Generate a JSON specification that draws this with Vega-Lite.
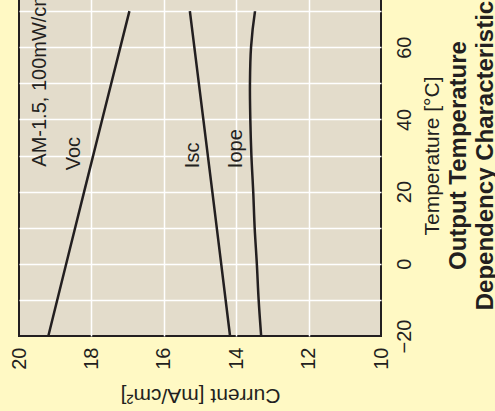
{
  "$schema": "https://vega.github.io/schema/vega-lite/v6.json",
  "width": 362,
  "height": 361,
  "autosize": {"type": "none"},
  "padding": {"left": 19, "top": -25, "right": 114, "bottom": 75},
  "background": "#FFF9C4",
  "title": {
    "text": ["Output Temperature", "Dependency Characteristic"],
    "orient": "right",
    "angle": 270,
    "baseline": "top",
    "anchor": "middle",
    "fontSize": 24,
    "fontWeight": "bold",
    "font": "Liberation Sans",
    "color": "#231F20",
    "offset": -46,
    "lineHeight": 27
  },
  "config": {
    "view": {"fill": "#E3DCCB", "stroke": "#231F20", "strokeWidth": 2},
    "font": "Liberation Sans"
  },
  "datasets": {
    "curves": [
      {"series": "Voc", "temp": -20, "current": 19.19},
      {"series": "Voc", "temp": 20, "current": 18.2},
      {"series": "Voc", "temp": 70, "current": 16.95},
      {"series": "Isc", "temp": -20, "current": 14.17},
      {"series": "Isc", "temp": 20, "current": 14.66},
      {"series": "Isc", "temp": 70, "current": 15.28},
      {"series": "Iope", "temp": -20, "current": 13.31},
      {"series": "Iope", "temp": -10, "current": 13.38},
      {"series": "Iope", "temp": 0, "current": 13.43},
      {"series": "Iope", "temp": 10, "current": 13.49},
      {"series": "Iope", "temp": 20, "current": 13.53},
      {"series": "Iope", "temp": 30, "current": 13.58},
      {"series": "Iope", "temp": 40, "current": 13.61},
      {"series": "Iope", "temp": 50, "current": 13.62},
      {"series": "Iope", "temp": 60, "current": 13.59},
      {"series": "Iope", "temp": 70, "current": 13.48}
    ],
    "labels": [
      {"label": "AM-1.5, 100mW/cm²", "temp": 26.9, "current": 19.26},
      {"label": "Voc", "temp": 25.9, "current": 18.31},
      {"label": "Isc", "temp": 26.5, "current": 15.03},
      {"label": "Iope", "temp": 26.5, "current": 13.84}
    ]
  },
  "layer": [
    {
      "data": {"name": "curves"},
      "mark": {"type": "line", "color": "#231F20", "strokeWidth": 2.5, "interpolate": "catmull-rom"},
      "encoding": {
        "x": {
          "field": "current",
          "type": "quantitative",
          "scale": {"domain": [10, 20], "reverse": true, "nice": false, "zero": false},
          "axis": {
            "values": [20, 18, 16, 14, 12, 10],
            "title": "Current [mA/cm²]",
            "labelAngle": -90,
            "labelAlign": "right",
            "labelBaseline": "middle",
            "labelPadding": 11,
            "labelFontSize": 20,
            "labelFlush": false,
            "labelOverlap": false,
            "labelColor": "#231F20",
            "ticks": false,
            "domain": false,
            "grid": true,
            "gridColor": "#FFFFFF",
            "gridWidth": 1.5,
            "gridOpacity": {"condition": {"test": "datum.value == 20 || datum.value == 10", "value": 0}, "value": 1},
            "titleAngle": 180,
            "titleAlign": "center",
            "titleBaseline": "alphabetic",
            "titleFontSize": 21,
            "titleFontWeight": "normal",
            "titleColor": "#231F20",
            "titlePadding": 19
          }
        },
        "y": {
          "field": "temp",
          "type": "quantitative",
          "scale": {"domain": [-20, 80], "nice": false, "zero": false},
          "axis": {
            "orient": "right",
            "values": [-20, -10, 0, 10, 20, 30, 40, 50, 60, 70],
            "labelExpr": "datum.value % 20 == 0 ? datum.label : ''",
            "labelAngle": -90,
            "labelAlign": "center",
            "labelBaseline": "top",
            "labelPadding": 13,
            "labelFontSize": 20,
            "labelFlush": false,
            "labelOverlap": false,
            "labelColor": "#231F20",
            "ticks": false,
            "domain": false,
            "grid": true,
            "gridColor": "#FFFFFF",
            "gridWidth": 1.5,
            "gridOpacity": {"condition": {"test": "datum.value == -20", "value": 0}, "value": 1},
            "title": "Temperature [°C]",
            "titleAngle": -90,
            "titleAlign": "center",
            "titleBaseline": "top",
            "titleFontSize": 21,
            "titleFontWeight": "normal",
            "titleColor": "#231F20",
            "titlePadding": 7
          }
        },
        "detail": {"field": "series"},
        "order": {"field": "temp", "type": "quantitative"}
      }
    },
    {
      "data": {"name": "labels"},
      "mark": {"type": "text", "angle": 270, "align": "left", "baseline": "alphabetic", "fontSize": 20, "color": "#231F20"},
      "encoding": {
        "x": {"field": "current", "type": "quantitative"},
        "y": {"field": "temp", "type": "quantitative"},
        "text": {"field": "label"}
      }
    }
  ]
}
